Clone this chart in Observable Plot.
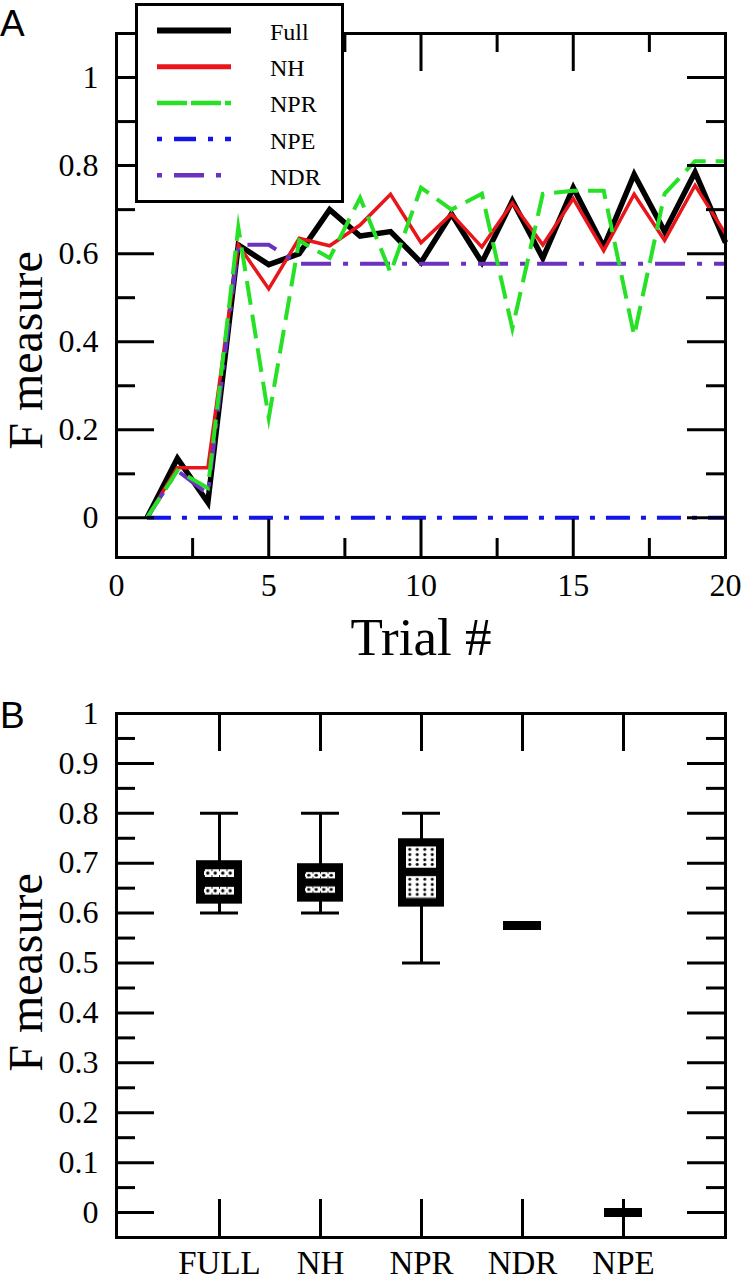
<!DOCTYPE html>
<html>
<head>
<meta charset="utf-8">
<script src="https://cdn.jsdelivr.net/npm/d3@7"></script>
<script src="https://cdn.jsdelivr.net/npm/@observablehq/plot@0.6"></script>
<style>
html,body{margin:0;padding:0;background:#fff;}
#page{position:relative;width:744px;height:1280px;overflow:hidden;background:#fff;}
#chartA{position:absolute;left:0;top:0;}
#chartB{position:absolute;left:0;top:672px;}
.panel{position:absolute;left:0;font-family:"Liberation Sans",Arial,sans-serif;font-size:37px;line-height:37px;color:#000;}
#legend{position:absolute;left:135px;top:3px;}
svg{display:block;}
</style>
</head>
<body>
<div id="page">
  <div id="chartA"></div>
  <div id="chartB"></div>
  <div class="panel" style="top:5px">A</div>
  <div class="panel" style="top:697px">B</div>
  <div id="legend"></div>
</div>
<script>
// ---------- Panel A data ----------
const trials = [1,2,3,4,5,6,7,8,9,10,11,12,13,14,15,16,17,18,19,20];
const seriesNames = ["Full","NH","NPR","NPE","NDR"];
const fullValues = [0,0.135,0.035,0.62,0.575,0.60,0.70,0.64,0.65,0.58,0.69,0.58,0.72,0.59,0.75,0.615,0.78,0.65,0.785,0.625];
const nhValues   = [0,0.114,0.114,0.62,0.52,0.635,0.618,0.665,0.735,0.625,0.69,0.615,0.715,0.62,0.725,0.607,0.735,0.63,0.755,0.645];
const nprValues  = [0,0.107,0.068,0.66,0.227,0.63,0.59,0.727,0.557,0.75,0.70,0.736,0.43,0.736,0.743,0.743,0.414,0.736,0.81,0.81];
const npeValues  = [0,0,0,0,0,0,0,0,0,0,0,0,0,0,0,0,0,0,0,0];
const ndrValues  = [0,0.107,0.055,0.62,0.62,0.577,0.577,0.577,0.577,0.577,0.577,0.577,0.577,0.577,0.577,0.577,0.577,0.577,0.577,0.577];
const xTicksA = [0,5,10,15,20];
const xMinorA = [2.5,7.5,12.5,17.5];
const yTicksA = [0,0.2,0.4,0.6,0.8,1];
const yMinorA = [0.1,0.3,0.5,0.7,0.9];

// ---------- Panel B data ----------
const boxCats = ["FULL","NH","NPR","NDR","NPE"];
const boxMin = [0.60,0.60,0.50,0.575,0];
const boxQ1  = [0.618,0.622,0.612,0.575,0];
const boxQ3  = [0.705,0.699,0.749,0.575,0];
const boxMax = [0.80,0.80,0.80,0.575,0];
const yTicksB = [0,0.1,0.2,0.3,0.4,0.5,0.6,0.7,0.8,0.9,1];
const yMinorB = [0.05,0.15,0.25,0.35,0.45,0.55,0.65,0.75,0.85,0.95];

// ---------- styles ----------
const seriesValues = {Full: fullValues, NH: nhValues, NPR: nprValues, NPE: npeValues, NDR: ndrValues};
const seriesStyle = {
  Full: {stroke:"#000000", width:5.5, dash:null,          legendDash:null,          legendOffset:0},
  NH:   {stroke:"#e8161b", width:3.5, dash:null,          legendDash:null,          legendOffset:0},
  NPR:  {stroke:"#26e126", width:4,   dash:"24,10",       legendDash:"30,4",        legendOffset:0},
  NPE:  {stroke:"#1414e6", width:4,   dash:"24,11,5,11",  legendDash:"22,12,5,12",  legendOffset:34},
  NDR:  {stroke:"#6b32bf", width:4,   dash:"30,12,5,12",  legendDash:"30,12,5,12",  legendOffset:42}
};
const drawOrder = ["Full","NH","NDR","NPR","NPE"];
const boxPattern = {FULL:"chainPat", NH:"chainPat", NPR:"gridPat"};
const serif = "'Liberation Serif','Times New Roman',serif";
const fmt = d => String(d);

const lineRows = [];
trials.forEach((t, i) => seriesNames.forEach(s => lineRows.push({trial: t, series: s, value: seriesValues[s][i]})));

const W = 744, ML = 116, MR = 19;
const FW = W - ML - MR;
const HA = 672, MTA = 33, MBA = 115, FHA = HA - MTA - MBA;
const HB = 608, MTB = 41, MBB = 43, FHB = HB - MTB - MBB;
const longT = 38, shortT = 19, tw = 3;

function frameTicksY(major, minor) {
  return [
    Plot.tickY(major, {strokeWidth: tw, insetRight: FW - longT}),
    Plot.tickY(major, {strokeWidth: tw, insetLeft: FW - longT}),
    Plot.tickY(minor, {strokeWidth: tw, insetRight: FW - shortT}),
    Plot.tickY(minor, {strokeWidth: tw, insetLeft: FW - shortT})
  ];
}
function serifText(svg, xSize, ySize) {
  const s = d3.select(svg);
  s.selectAll("text").style("font-family", serif);
  s.selectAll('g[aria-label="x-axis tick label"]').style("font-size", xSize + "px").style("font-family", serif).style("font-variant", "normal");
  s.selectAll('g[aria-label="y-axis tick label"]').style("font-size", ySize + "px").style("font-family", serif).style("font-variant", "normal");
}

const chartA = Plot.plot({
  width: W, height: HA, marginTop: MTA, marginRight: MR, marginBottom: MBA, marginLeft: ML,
  style: {background: "#fff", color: "#000", fontFamily: serif, fontSize: "32px", overflow: "visible"},
  x: {domain: [0, 20], ticks: xTicksA, tickSize: 0, tickPadding: 16, label: null},
  y: {domain: [-0.09, 1.1], ticks: yTicksA, tickSize: 0, tickPadding: 18, label: null, tickFormat: fmt},
  marks: [
    ...drawOrder.map(s => Plot.line(lineRows.filter(d => d.series === s), {
      x: "trial", y: "value",
      stroke: seriesStyle[s].stroke, strokeWidth: seriesStyle[s].width,
      strokeDasharray: seriesStyle[s].dash, strokeLinejoin: "miter", strokeLinecap: "butt", strokeMiterlimit: 10
    })),
    ...frameTicksY(yTicksA, yMinorA),
    Plot.tickX(xTicksA, {strokeWidth: tw, insetTop: FHA - longT}),
    Plot.tickX(xTicksA, {strokeWidth: tw, insetBottom: FHA - longT}),
    Plot.tickX(xMinorA, {strokeWidth: tw, insetTop: FHA - shortT}),
    Plot.tickX(xMinorA, {strokeWidth: tw, insetBottom: FHA - shortT}),
    Plot.frame({strokeWidth: 3}),
    Plot.text(["F measure"], {frameAnchor: "left", rotate: -90, textAnchor: "middle", lineAnchor: "middle", fontSize: 48, dx: -90, dy: 55}),
    Plot.text(["Trial #"], {frameAnchor: "bottom", textAnchor: "middle", lineAnchor: "middle", fontSize: 53, dy: 81})
  ]
});
serifText(chartA, 32, 32);
document.getElementById("chartA").appendChild(chartA);

const boxRows = boxCats.map((c, i) => ({cat: c, min: boxMin[i], q1: boxQ1[i], q3: boxQ3[i], max: boxMax[i]}));

const chartB = Plot.plot({
  width: W, height: HB, marginTop: MTB, marginRight: MR, marginBottom: MBB, marginLeft: ML,
  style: {background: "#fff", color: "#000", fontFamily: serif, fontSize: "33px", overflow: "visible"},
  x: {type: "band", domain: boxCats, paddingInner: 0.549, paddingOuter: 0.76, tickSize: 0, tickPadding: 13, label: null},
  y: {domain: [-0.05, 1], ticks: yTicksB, tickSize: 0, tickPadding: 18, label: null, tickFormat: fmt},
  marks: [
    ...frameTicksY(yTicksB, yMinorB),
    Plot.tickX(boxCats, {strokeWidth: tw, insetTop: FHB - longT}),
    Plot.tickX(boxCats, {strokeWidth: tw, insetBottom: FHB - longT}),
    Plot.ruleX(boxRows.filter(d => d.max > d.min), {x: "cat", y1: "min", y2: "max", strokeWidth: 3}),
    Plot.tickY(boxRows.filter(d => d.max > d.min), {x: "cat", y: "min", strokeWidth: 3, inset: 4}),
    Plot.tickY(boxRows.filter(d => d.max > d.min), {x: "cat", y: "max", strokeWidth: 3, inset: 4}),
    Plot.barY(boxRows.filter(d => d.q3 > d.q1), {x: "cat", y1: "q1", y2: "q3", fill: "#000"}),
    Plot.barY(boxRows.filter(d => boxPattern[d.cat] === "chainPat"), {x: "cat", y1: "q1", y2: "q3", fill: "url(#chainPat)", inset: 8}),
    Plot.barY(boxRows.filter(d => boxPattern[d.cat] === "gridPat"), {x: "cat", y1: "q1", y2: "q3", fill: "url(#gridPat)", inset: 8}),
    Plot.tickY(boxRows.filter(d => d.q3 === d.q1), {x: "cat", y: "q1", strokeWidth: 9, inset: 4}),
    Plot.frame({strokeWidth: 3}),
    Plot.text(["F measure"], {frameAnchor: "left", rotate: -90, textAnchor: "middle", lineAnchor: "middle", fontSize: 48, dx: -90, dy: -3})
  ]
});
serifText(chartB, 33, 32);
// box fill patterns
let defs = `
<pattern id="chainPat" patternUnits="objectBoundingBox" patternContentUnits="objectBoundingBox" width="0.25" height="1">
  <rect x="0" y="0.04" width="0.25" height="0.28" fill="#fff"/>
  <rect x="0" y="0.68" width="0.25" height="0.28" fill="#fff"/>
  <ellipse cx="0.125" cy="0.18" rx="0.055" ry="0.065" fill="#000"/>
  <ellipse cx="0.125" cy="0.82" rx="0.055" ry="0.065" fill="#000"/>
  <rect x="0" y="0.04" width="0.03" height="0.07" fill="#000"/>
  <rect x="0" y="0.25" width="0.03" height="0.07" fill="#000"/>
  <rect x="0" y="0.68" width="0.03" height="0.07" fill="#000"/>
  <rect x="0" y="0.89" width="0.03" height="0.07" fill="#000"/>
</pattern>
<pattern id="gridPat" patternUnits="objectBoundingBox" patternContentUnits="objectBoundingBox" width="0.25" height="1">
  <rect x="0" y="0" width="0.25" height="0.41" fill="#fff"/>
  <rect x="0" y="0.57" width="0.25" height="0.41" fill="#fff"/>`;
[0.06,0.16,0.26,0.35,0.63,0.73,0.83,0.92].forEach(cy => {
  defs += `<ellipse cx="0.125" cy="${cy}" rx="0.05" ry="0.028" fill="#000"/>`;
});
defs += `</pattern>`;
d3.select(chartB).insert("defs", ":first-child").html(defs);
document.getElementById("chartB").appendChild(chartB);

// ---------- legend ----------
const leg = d3.select("#legend").append("svg").attr("width", 209).attr("height", 201);
leg.append("rect").attr("x", 1.5).attr("y", 1.5).attr("width", 206).attr("height", 197)
  .attr("fill", "#fff").attr("stroke", "#000").attr("stroke-width", 3);
seriesNames.forEach((s, i) => {
  const y = 27.5 + i * 36.2;
  const st = seriesStyle[s];
  leg.append("line").attr("x1", 22).attr("x2", 96).attr("y1", y).attr("y2", y)
    .attr("stroke", st.stroke).attr("stroke-width", s === "Full" ? 6 : (s === "NH" ? 5 : 4.5))
    .attr("stroke-dasharray", st.legendDash).attr("stroke-dashoffset", st.legendOffset);
  leg.append("text").attr("x", 135).attr("y", y + 9.5).text(s)
    .style("font-family", serif).style("font-size", "24px").attr("fill", "#000");
});
</script>
</body>
</html>
